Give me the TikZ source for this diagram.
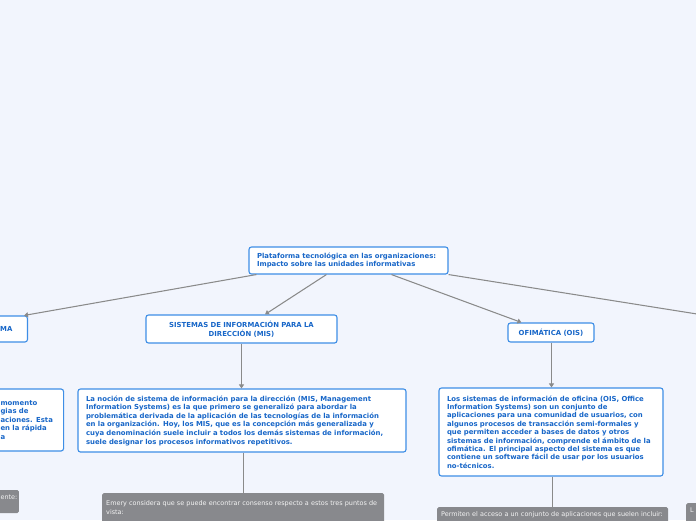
\documentclass[tikz,border=0pt]{standalone}
\usepackage{fontspec}
\setmainfont{DejaVu Sans}
\usetikzlibrary{arrows.meta}
\definecolor{bg}{HTML}{F2F5FD}
\definecolor{bblue}{HTML}{3E8EE6}
\definecolor{tblue}{HTML}{1766C8}
\definecolor{lgray}{HTML}{8A8A8A}
\definecolor{gfill}{HTML}{88898D}
\definecolor{gtext}{HTML}{F4F4F4}
\tikzset{
  bluebox/.style={draw=bblue, line width=1.1pt, fill=white, rounded corners=2.5pt,
    text=tblue, font=\fontsize{6.9}{8.6}\selectfont\bfseries, inner xsep=8pt, inner ysep=3pt},
  graybox/.style={fill=gfill, rounded corners=1.5pt, text=gtext,
    font=\fontsize{6.45}{8.8}\selectfont, inner xsep=4pt, inner ysep=1.5pt},
  conn/.style={draw=lgray, line width=1.05pt},
  arr/.style={conn, -{Triangle[width=5pt,length=4pt]}}
}
\begin{document}
\begin{tikzpicture}[x=1pt,y=-1pt]
\useasboundingbox (0,0) rectangle (696,520);
\fill[bg] (0,0) rectangle (696,520);
\clip (0,0) rectangle (696,520);

% top level
\node[bluebox, minimum width=199pt, minimum height=27pt, text width=183pt, align=left]
  (root) at (348.5,260.5) {Plataforma tecnológica en las organizaciones:\\Impacto sobre las unidades informativas};

\node[bluebox, anchor=east, minimum height=26pt, text width=40pt, align=right, inner xsep=15pt]
  (ma) at (28,329) {MA};
\node[bluebox, minimum width=191pt, minimum height=28pt, text width=175pt, align=center]
  (mis) at (241.5,329) {SISTEMAS DE INFORMACIÓN PARA LA\\DIRECCIÓN (MIS)};
\node[bluebox, minimum width=86pt, minimum height=19pt, align=center, inner xsep=4pt, inner ysep=2pt]
  (ois) at (551,332.5) {OFIMÁTICA (OIS)};
\coordinate (rt) at (760,324);

% second level texts
\node[bluebox, anchor=west, minimum height=62pt, text width=55pt, align=left]
  (lt) at (-8,420) {momento\\gias de\\aciones. Esta\\en la rápida\\a};
\node[bluebox, minimum width=328pt, minimum height=63pt, text width=312pt, align=left]
  (mist) at (242,420.5) {La noción de sistema de información para la dirección (MIS, Management\\Information Systems) es la que primero se generalizó para abordar la\\problemática derivada de la aplicación de las tecnologías de la información\\en la organización. Hoy, los MIS, que es la concepción más generalizada y\\cuya denominación suele incluir a todos los demás sistemas de información,\\suele designar los procesos informativos repetitivos.};
\node[bluebox, minimum width=224pt, minimum height=88pt, text width=208pt, align=left, font=\fontsize{6.9}{8.4}\selectfont\bfseries]
  (oist) at (551,432) {Los sistemas de información de oficina (OIS, Office\\Information Systems) son un conjunto de\\aplicaciones para una comunidad de usuarios, con\\algunos procesos de transacción semi-formales y\\que permiten acceder a bases de datos y otros\\sistemas de información, comprende el ámbito de la\\ofimática. El principal aspecto del sistema es que\\contiene un software fácil de usar por los usuarios\\no-técnicos.};

% gray boxes
\node[graybox, anchor=east, minimum height=23pt, text width=30pt, align=right, text depth=9pt, inner xsep=1.5pt]
  (ge) at (19,501.5) {ente:};
\node[graybox, anchor=north west, minimum width=282pt, minimum height=40pt, text width=274pt, align=left, text depth=20pt]
  (emery) at (102,493) { Emery considera que se puede encontrar consenso respecto a estos tres puntos de\\vista:};
\node[graybox, anchor=north west, minimum width=231pt, minimum height=25pt, text width=223pt, align=left, text depth=12pt]
  (perm) at (437,507) {Permiten el acceso a un conjunto de aplicaciones que suelen incluir:};
\node[graybox, anchor=north west, minimum width=40pt, minimum height=25pt, text width=32pt, align=left, text depth=12pt]
  (lbox) at (686,503) {L};

% connectors
\coordinate (ms) at ([xshift=1.5pt]mist.south);
\coordinate (os) at ([xshift=1.5pt]oist.south);
\coordinate (oo) at ([xshift=0.5pt]ois.south);
\draw[arr] ([xshift=8pt]root.south west) -- ([xshift=-4pt]ma.north east);
\draw[arr] ([xshift=78pt]root.south west) -- ([xshift=23.5pt]mis.north);
\draw[arr] ([xshift=143pt]root.south west) -- ([xshift=14pt]ois.north west);
\draw[conn] (root.south east) -- (rt);
\draw[arr] (mis.south) -- (mist.north -| mis.south);
\draw[arr] (oo) -- (oist.north -| oo);
\draw[conn] (ms) -- (emery.north -| ms);
\draw[conn] (os) -- (perm.north -| os);
\end{tikzpicture}
\end{document}
